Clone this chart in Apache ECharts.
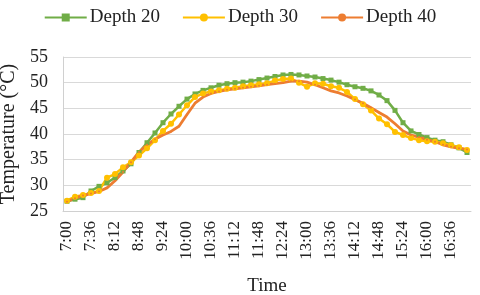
<!DOCTYPE html>
<html>
<head>
<meta charset="utf-8">
<script src="https://cdn.jsdelivr.net/npm/echarts@6/dist/echarts.min.js"></script>
<style>html,body{margin:0;padding:0;background:#fff}#c{width:480px;height:295px}</style>
</head>
<body>
<div id="c"></div>
<script>
// Times every 12 minutes from 7:00 to 17:00
const times = ["7:00","7:12","7:24","7:36","7:48","8:00","8:12","8:24","8:36","8:48","9:00","9:12","9:24","9:36","9:48","10:00","10:12","10:24","10:36","10:48","11:00","11:12","11:24","11:36","11:48","12:00","12:12","12:24","12:36","12:48","13:00","13:12","13:24","13:36","13:48","14:00","14:12","14:24","14:36","14:48","15:00","15:12","15:24","15:36","15:48","16:00","16:12","16:24","16:36","16:48","17:00"];
const depth20 = [26.9,27.3,27.6,28.9,29.8,30.5,31.5,32.8,34.2,36.4,38.3,40.2,42.2,43.9,45.4,46.8,47.8,48.5,49.0,49.5,49.8,50.0,50.1,50.3,50.6,50.9,51.2,51.5,51.6,51.5,51.3,51.1,50.8,50.5,50.1,49.6,49.2,48.9,48.4,47.6,46.5,44.6,42.2,40.6,39.9,39.3,38.8,38.5,37.9,37.3,36.4];
const depth30 = [27.0,27.8,28.1,28.5,28.9,31.5,32.2,33.5,34.5,35.8,37.2,38.8,40.6,42.0,43.8,45.6,47.2,47.9,48.3,48.5,48.8,49.0,49.3,49.5,49.7,49.9,50.4,50.7,50.8,50.0,49.2,49.9,49.8,49.3,49.0,48.2,46.8,45.8,44.6,43.0,41.9,40.4,39.8,39.2,38.8,38.6,38.5,38.2,37.8,37.4,36.9];
const depth40 = [26.8,27.5,28.0,28.4,28.8,29.5,30.9,32.6,34.5,36.5,37.9,39.0,39.8,40.5,41.5,43.8,46.0,47.2,47.9,48.3,48.6,48.8,49.0,49.2,49.4,49.6,49.8,50.0,50.3,50.3,50.1,49.6,49.0,48.4,48.0,47.4,46.7,46.0,45.1,44.2,43.3,42.0,40.6,39.8,39.4,38.9,38.5,37.9,37.5,37.2,37.0];
const yTicks = {min: 25, max: 55, interval: 5};

const font = '"Liberation Serif","Times New Roman",serif';
const chart = echarts.init(document.getElementById('c'), null, {renderer: 'canvas'});
chart.setOption({
  animation: false,
  textStyle: {fontFamily: font},
  legend: {
    top: 3, left: 'center',
    itemWidth: 42, itemHeight: 10, itemGap: 22,
    textStyle: {fontFamily: font, fontSize: 19, color: '#222', padding: [0,0,0,-2]},
    data: ['Depth 20','Depth 30','Depth 40']
  },
  grid: {left: 63, right: 9, top: 57, bottom: 84, containLabel: false, outerBoundsMode: 'none'},
  xAxis: {
    type: 'category', data: times, boundaryGap: true,
    name: 'Time', nameLocation: 'middle', nameGap: 66,
    nameTextStyle: {fontFamily: font, fontSize: 19, color: '#222'},
    axisLine: {lineStyle: {color: '#d0d0d0', width: 1}},
    axisTick: {show: false},
    axisLabel: {interval: 2, rotate: 90, fontFamily: font, fontSize: 17, color: '#222', margin: 10}
  },
  yAxis: {
    type: 'value', min: yTicks.min, max: yTicks.max, interval: yTicks.interval,
    name: 'Temperature (\u00B0C)', nameLocation: 'middle', nameGap: 41,
    nameTextStyle: {fontFamily: font, fontSize: 20, color: '#222'},
    axisLine: {show: true, lineStyle: {color: '#d0d0d0', width: 1}},
    axisTick: {show: false},
    splitLine: {lineStyle: {color: '#d9d9d9', width: 1}},
    axisLabel: {fontFamily: font, fontSize: 18, color: '#222', margin: 15}
  },
  series: [
    {name: 'Depth 20', type: 'line', data: depth20, symbol: 'rect', symbolSize: 5, showAllSymbol: true,
     lineStyle: {color: '#70AD47', width: 2.5}, itemStyle: {color: '#70AD47'}},
    {name: 'Depth 30', type: 'line', data: depth30, symbol: 'circle', symbolSize: 6, showAllSymbol: true,
     lineStyle: {color: '#FFC000', width: 2.5}, itemStyle: {color: '#FFC000'}},
    {name: 'Depth 40', type: 'line', data: depth40, symbol: 'circle', symbolSize: 2, showAllSymbol: true,
     lineStyle: {color: '#ED7D31', width: 2.8}, itemStyle: {color: '#ED7D31'}}
  ]
});
</script>
</body>
</html>
